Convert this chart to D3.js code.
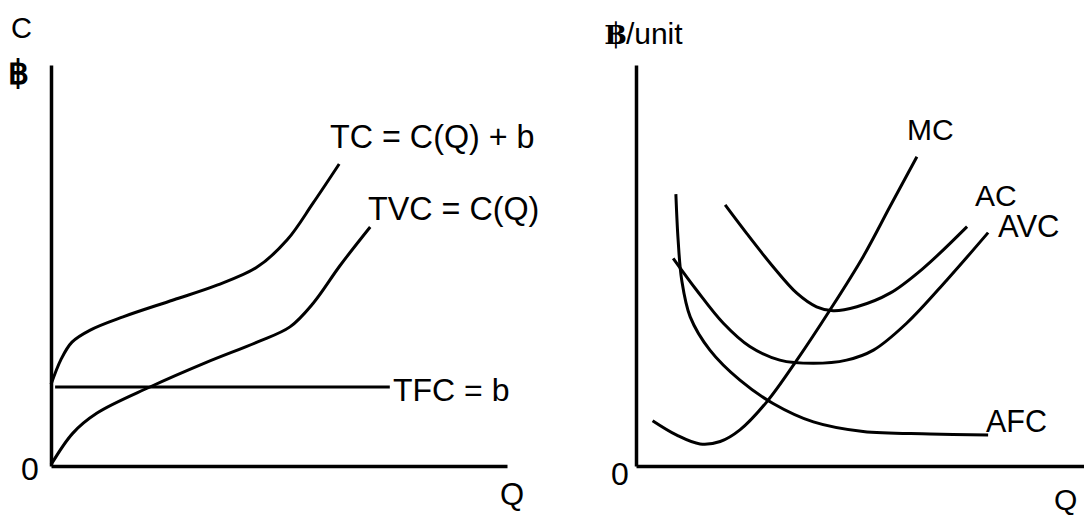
<!DOCTYPE html>
<html>
<head>
<meta charset="utf-8">
<script src="https://cdn.jsdelivr.net/npm/d3@7"></script>
<style>
  html, body { margin: 0; padding: 0; background: #fff; }
  svg { display: block; }
  text { font-family: "Liberation Sans", Arial, sans-serif; fill: #000; }
</style>
</head>
<body>
<script>
// ---- Left panel data (Q units 0..100, cost units 0..100) ----
const tcQ   = [0, 2.2, 4.6, 8.6, 15.8, 26.8, 36.4, 45.2, 51.8, 57.5, 63.2];
const tcC   = [20.3, 26.6, 30.9, 33.9, 37.2, 41.4, 45.1, 49.6, 56.4, 65.6, 75.3];
const tvcQ  = [0, 4.8, 10.1, 21.7, 34.2, 45.2, 52.4, 57.5, 63.4, 70];
const tvcC  = [0.3, 8.2, 13.2, 19.7, 25.9, 30.9, 34.7, 40.6, 50.0, 59.6];
const tfcQ  = [0.9, 74.3];
const tfcC  = [19.7, 19.7];

// ---- Right panel data (Q units 0..100, cost per unit 0..100) ----
const mcQ   = [3.7, 9.1, 14.3, 18.8, 23.2, 29.2, 35.9, 43.3, 50.7, 56.7, 62.7];
const mcC   = [11.3, 7.7, 5.5, 6.1, 9.0, 16.0, 26.4, 38.9, 52.2, 64.7, 77.1];
const acQ   = [19.9, 24.7, 30.6, 35.9, 40.3, 44.0, 49.3, 56.7, 64.1, 73.9];
const acC   = [65.1, 58.0, 49.7, 43.1, 39.7, 38.7, 39.7, 43.1, 49.3, 59.7];
const avcQ  = [8.3, 13.5, 19.5, 25.4, 32.1, 39.6, 47.0, 53.0, 60.4, 69.4, 78.6];
const avcC  = [51.8, 43.9, 35.6, 29.8, 26.4, 25.6, 26.4, 28.9, 35.6, 46.4, 58.2];
const afcQ  = [8.9, 9.4, 10.2, 12.1, 16.5, 23.2, 30.6, 39.6, 50.7, 65.6, 78.6];
const afcC  = [67.8, 56.4, 46.4, 37.2, 28.9, 21.4, 15.6, 11.0, 8.6, 8.0, 7.7];

// ---- Text labels ----
const leftLabels  = ["TC = C(Q) + b", "TVC = C(Q)", "TFC = b"];
const rightLabels = ["MC", "AC", "AVC", "AFC"];
const axisTitles  = { leftY: "C", leftYUnit: "฿", rightYUnit: "฿", rightYUnitRest: "/unit", x: "Q", origin: "0" };

const W = 1084, H = 515;
const svg = d3.select("body").append("svg").attr("width", W).attr("height", H);

const zip = (a, b) => a.map((v, i) => [v, b[i]]);

// Scales
const xL = d3.scaleLinear().domain([0, 100]).range([51, 507]);
const yL = d3.scaleLinear().domain([0, 100]).range([466, 65]);
const xR = d3.scaleLinear().domain([0, 100]).range([636, 1084]);
const yR = d3.scaleLinear().domain([0, 100]).range([466, 65]);

function drawAxes(x, y) {
  const gx = svg.append("g").attr("transform", `translate(0,${y(0)})`)
    .call(d3.axisBottom(x).tickValues([]).tickSizeOuter(0));
  const gy = svg.append("g").attr("transform", `translate(${x(0)},0)`)
    .call(d3.axisLeft(y).tickValues([]).tickSizeOuter(0));
  [gx, gy].forEach(g => g.select(".domain").attr("stroke", "#000").attr("stroke-width", 3.5));
}
drawAxes(xL, yL);
drawAxes(xR, yR);

function curve(x, y, qs, cs, ctype) {
  const line = d3.line().x(d => x(d[0])).y(d => y(d[1])).curve(ctype || d3.curveCatmullRom.alpha(0.5));
  svg.append("path").datum(zip(qs, cs)).attr("d", line)
    .attr("fill", "none").attr("stroke", "#000").attr("stroke-width", 3)
    .attr("stroke-linecap", "butt").attr("stroke-linejoin", "round");
}

curve(xL, yL, tcQ, tcC);
curve(xL, yL, tvcQ, tvcC);
curve(xL, yL, tfcQ, tfcC, d3.curveLinear);

curve(xR, yR, mcQ, mcC);
curve(xR, yR, acQ, acC);
curve(xR, yR, avcQ, avcC);
curve(xR, yR, afcQ, afcC);

function label(txt, x, y, size, extra) {
  const t = svg.append("text").attr("x", x).attr("y", y).attr("font-size", size).text(txt);
  if (extra) extra(t);
  return t;
}

// Left panel labels
label(leftLabels[0], 330, 148, 32.3);
label(leftLabels[1], 368, 220, 32.3);
label(leftLabels[2], 393, 401, 32);

// Right panel labels
label(rightLabels[0], 907, 140, 30);
label(rightLabels[1], 975, 206, 30);
label(rightLabels[2], 998, 237, 31);
label(rightLabels[3], 986, 432, 30.5);

// Axis titles
label(axisTitles.leftY, 11, 38, 29);
label(axisTitles.leftYUnit, 8, 84, 33, t => t.attr("font-family", "'Liberation Serif', 'DejaVu Serif', serif").attr("font-weight", "bold"));
const ru = svg.append("text").attr("x", 605).attr("y", 44).attr("font-size", 30);
ru.append("tspan").attr("font-family", "'Liberation Serif', 'DejaVu Serif', serif").attr("font-weight", "bold").text(axisTitles.rightYUnit);
ru.append("tspan").text(axisTitles.rightYUnitRest);

label(axisTitles.origin, 21, 480, 32);
label(axisTitles.origin, 611, 485, 32);
label(axisTitles.x, 500, 505, 31);
label(axisTitles.x, 1054, 510, 30);
</script>
</body>
</html>
